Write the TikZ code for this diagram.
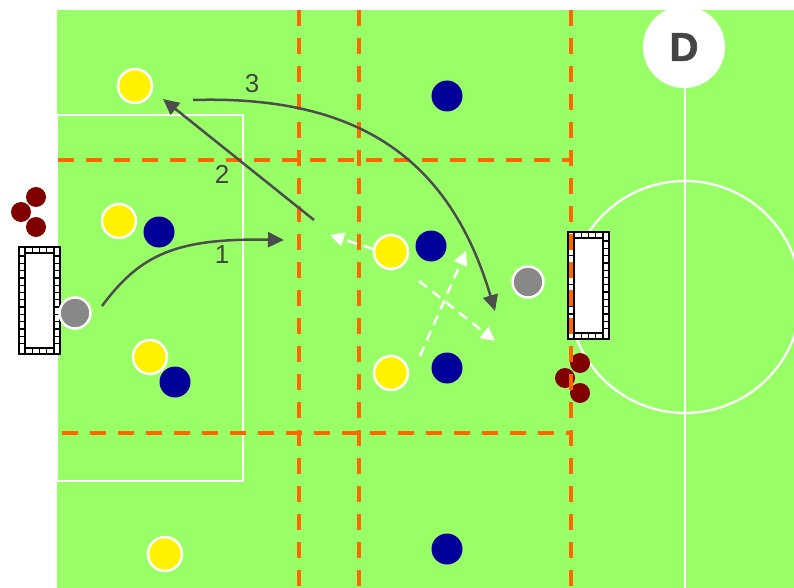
\documentclass[tikz,border=0pt]{standalone}
\usepackage{fontspec}
\setmainfont{Liberation Sans}
\newfontfamily\heavyfont[BoldFeatures={FakeBold=1.5}]{Liberation Sans}
\usetikzlibrary{arrows.meta}
\definecolor{fieldgreen}{HTML}{99FF66}
\definecolor{zoneorange}{HTML}{FF6600}
\definecolor{navyblue}{HTML}{000099}
\definecolor{ballgray}{HTML}{888888}
\definecolor{darkred}{HTML}{800000}
\definecolor{arrowgray}{HTML}{4D4D4D}
\definecolor{dtext}{HTML}{444444}
\tikzset{
  yel/.style={circle, fill=yellow, draw=white, line width=2.5pt, minimum size=34pt, inner sep=0pt},
  blu/.style={circle, fill=navyblue, minimum size=31pt, inner sep=0pt},
  gry/.style={circle, fill=ballgray, draw=white, line width=2.5pt, minimum size=31pt, inner sep=0pt},
  dred/.style={circle, fill=darkred, minimum size=20pt, inner sep=0pt},
  zone/.style={draw=zoneorange, line width=4pt, dash pattern=on 16pt off 12pt},
  pitchline/.style={draw=white, line width=2.3pt},
  runarrow/.style={draw=arrowgray, line width=2.5pt, -{Triangle[length=16pt,width=15pt]}},
  passarrow/.style={draw=white, line width=2.5pt, dash pattern=on 10pt off 7pt, -{Triangle[length=14pt,width=14pt]}},
  numlabel/.style={text=dtext, font=\fontsize{26}{30}\selectfont, inner sep=0pt},
}
\newcommand{\netgoal}[2]{%
  \begin{scope}[shift={(#1,#2)}]
    \fill[white] (0,0) rectangle (41,107);
    \draw[black, line width=1.3pt] (0,0) rectangle (41,107);
    \draw[black, line width=1.3pt] (6,6) rectangle (35,101);
    \foreach \t in {9,16.3,...,100} {
      \draw[black, line width=1.3pt] (-1,\t) -- (7,\t);
      \draw[black, line width=1.3pt] (34,\t) -- (42,\t);
    }
    \foreach \s in {6,13.25,...,36} {
      \draw[black, line width=1.3pt] (\s,0) -- (\s,6);
      \draw[black, line width=1.3pt] (\s,101) -- (\s,107);
    }
  \end{scope}}
\begin{document}
\begin{tikzpicture}[x=1pt,y=-1pt]
\useasboundingbox (0,0) rectangle (794,588);
\fill[fieldgreen] (57,10) rectangle (794,588);
% pitch markings
\begin{scope}
  \clip (57,10) rectangle (794,588);
  \draw[pitchline] (685,297) circle (116);
  \draw[pitchline] (685,80) -- (685,588);
\end{scope}
\draw[pitchline] (57,115) rectangle (243,481);
\fill[white] (684,47) circle (41);
\node[text=dtext, font=\heavyfont\bfseries\fontsize{40}{44}\selectfont, inner sep=0pt] (dlabel) at (684,47) {D};
% goals
\netgoal{19}{247}
\netgoal{568}{232}
% players
\node[yel] (ya) at (135,86) {};
\node[yel] (yb) at (119,221) {};
\node[yel] (yc) at (150,357) {};
\node[yel] (yd) at (391,252) {};
\node[yel] (ye) at (391,373) {};
\node[yel] (yf) at (165,554) {};
\node[blu] (ba) at (447,96) {};
\node[blu] (bb) at (159,232) {};
\node[blu] (bc) at (175,382) {};
\node[blu] (bd) at (431,246) {};
\node[blu] (be) at (447,368) {};
\node[blu] (bf) at (447,549) {};
\node[gry] (ga) at (75,313) {};
\node[gry] (gb) at (528,282) {};
\node[dred] (ra) at (36,197) {};
\node[dred] (rb) at (21,212) {};
\node[dred] (rc) at (36,227) {};
\node[dred] (rd) at (580,363) {};
\node[dred] (re) at (565,378) {};
\node[dred] (rf) at (580,393) {};
% zone lines
\draw[zone] (299,10) -- (299,588);
\draw[zone] (359,10) -- (359,588);
\draw[zone] (571,10) -- (571,588);
\draw[zone] (58,160) -- (570,160);
\draw[zone] (62,433) -- (570,433);
% runs
\coordinate (s1) at (102,306);
\coordinate (e1) at (284,240);
\coordinate (s2) at (314,220);
\coordinate (e2) at (163,99);
\coordinate (s3) at (193,100);
\coordinate (e3) at (495,311);
\draw[runarrow] (s1) .. controls (140,255) and (175,238) .. (e1);
\draw[runarrow] (s2) -- (e2);
\draw[runarrow] (s3) .. controls (360,95) and (450,160) .. (e3);
% passes
\coordinate (p1s) at (373,249);
\coordinate (p1e) at (330,235);
\coordinate (p2s) at (420,356);
\coordinate (p2e) at (466,251);
\coordinate (p3s) at (419,281);
\coordinate (p3e) at (495,341);
\draw[passarrow] (p1s) -- (p1e);
\draw[passarrow] (p2s) -- (p2e);
\draw[passarrow] (p3s) -- (p3e);
% labels
\node[numlabel] (l1) at (222,255) {1};
\node[numlabel] (l2) at (222,174) {2};
\node[numlabel] (l3) at (252,84) {3};
\end{tikzpicture}
\end{document}
